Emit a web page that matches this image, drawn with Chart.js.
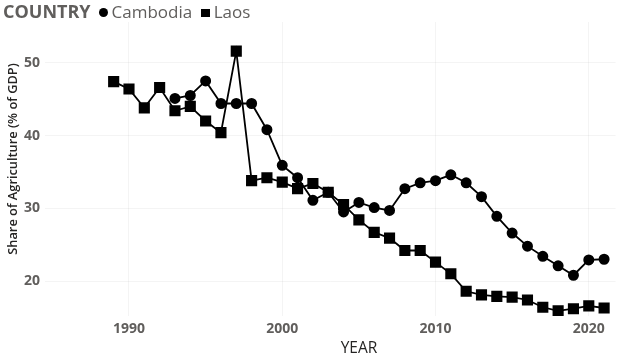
<!DOCTYPE html>
<html>
<head>
<meta charset="utf-8">
<script src="https://cdn.jsdelivr.net/npm/chart.js@4/dist/chart.umd.min.js"></script>
<style>
  html, body { margin: 0; padding: 0; background: #fff; }
  #wrap { position: relative; width: 624px; height: 357px; }
  #legend { position: absolute; left: 3px; top: 0px; font-family: "Open Sans", sans-serif; font-size: 17px; color: #605E5C; white-space: nowrap; line-height: 23px; }
  #legend b { font-weight: 700; font-size: 18px; margin-right: 8px; }
  #legend .dot { display: inline-block; width: 9px; height: 9px; border-radius: 50%; background: #000; margin-right: 4px; vertical-align: 1px; }
  #legend .sq { display: inline-block; width: 8.5px; height: 8.5px; background: #000; margin-left: 9px; margin-right: 4px; vertical-align: 1px; }
</style>
</head>
<body>
<div id="wrap">
  <canvas id="c" width="624" height="357"></canvas>
  <div id="legend"><b>COUNTRY</b><span class="dot"></span><span>Cambodia</span><span class="sq"></span><span>Laos</span></div>
</div>
<script>
const laosYears = [1989,1990,1991,1992,1993,1994,1995,1996,1997,1998,1999,2000,2001,2002,2003,2004,2005,2006,2007,2008,2009,2010,2011,2012,2013,2014,2015,2016,2017,2018,2019,2020,2021];
const laosValues = [47.4,46.4,43.8,46.6,43.4,44.0,42.0,40.4,51.6,33.8,34.2,33.6,32.7,33.4,32.2,30.5,28.4,26.7,25.9,24.2,24.2,22.6,21.0,18.6,18.1,17.9,17.8,17.4,16.4,15.9,16.2,16.6,16.3];
const cambodiaYears = [1993,1994,1995,1996,1997,1998,1999,2000,2001,2002,2003,2004,2005,2006,2007,2008,2009,2010,2011,2012,2013,2014,2015,2016,2017,2018,2019,2020,2021];
const cambodiaValues = [45.1,45.5,47.5,44.4,44.4,44.4,40.8,35.9,34.2,31.1,32.2,29.5,30.8,30.1,29.7,32.7,33.5,33.8,34.6,33.5,31.6,28.9,26.6,24.8,23.4,22.1,20.8,22.9,23.0];
const xTicks = [1990, 2000, 2010, 2020];
const yTicks = [20, 30, 40, 50];
const xTitle = 'YEAR';
const yTitle = 'Share of Agriculture (% of GDP)';

const toPts = (xs, ys) => xs.map((x, i) => ({ x: x, y: ys[i] }));

const axisTitles = {
  id: 'axisTitles',
  afterDraw(chart, args, opts) {
    const ctx = chart.ctx;
    ctx.save();
    ctx.textAlign = 'center';
    ctx.textBaseline = 'middle';
    ctx.fillStyle = '#252423';
    ctx.font = '15.5px "Open Sans"';
    ctx.fillText(opts.x, opts.xPos[0], opts.xPos[1]);
    ctx.translate(opts.yPos[0], opts.yPos[1]);
    ctx.rotate(-Math.PI / 2);
    ctx.font = '600 12.8px "Open Sans"';
    ctx.fillText(opts.y, 0, 0);
    ctx.restore();
  }
};

new Chart(document.getElementById('c'), {
  type: 'line',
  data: {
    datasets: [
      {
        label: 'Cambodia',
        data: toPts(cambodiaYears, cambodiaValues),
        borderColor: '#000', backgroundColor: '#000', borderWidth: 1.8,
        pointStyle: 'circle', pointRadius: 4.6, pointHoverRadius: 4.6, tension: 0
      },
      {
        label: 'Laos',
        data: toPts(laosYears, laosValues),
        borderColor: '#000', backgroundColor: '#000', borderWidth: 1.8,
        pointStyle: 'rect', pointRadius: 6.6, pointHoverRadius: 6.6, tension: 0
      }
    ]
  },
  plugins: [axisTitles],
  options: {
    responsive: false,
    animation: false,
    events: [],
    layout: { padding: { top: 22, left: 0, right: 0, bottom: 0 } },
    plugins: {
      legend: { display: false },
      tooltip: { enabled: false },
      axisTitles: { x: xTitle, y: yTitle, xPos: [359, 349], yPos: [13, 159] }
    },
    scales: {
      x: {
        type: 'linear', min: 1984.52, max: 2021.75,
        afterBuildTicks: s => { s.ticks = xTicks.map(v => ({ value: v })); },
        afterFit: s => { s.height = 41; },
        grid: { color: 'rgba(0,0,0,0.045)', drawTicks: false },
        border: { display: false },
        ticks: { padding: 5, color: '#605E5C', font: { family: 'Open Sans', size: 14, weight: 'bold' }, callback: v => String(v) },
        title: { display: false, text: xTitle }
      },
      y: {
        min: 15.2, max: 55.6,
        afterBuildTicks: s => { s.ticks = yTicks.map(v => ({ value: v })); },
        afterFit: s => { s.width = 45; },
        grid: { color: 'rgba(0,0,0,0.045)', drawTicks: false },
        border: { display: false },
        ticks: { padding: 5, color: '#605E5C', font: { family: 'Open Sans', size: 14, weight: 'bold' } },
        title: { display: false, text: yTitle }
      }
    }
  }
});
</script>
</body>
</html>
